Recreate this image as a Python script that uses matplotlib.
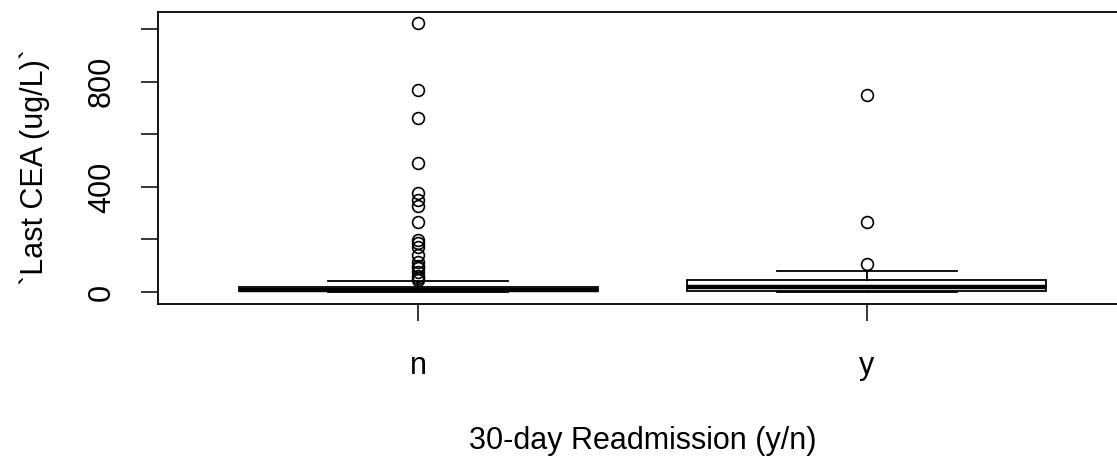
import matplotlib
matplotlib.use('Agg')
import matplotlib.pyplot as plt

plt.rcParams['font.family'] = ['Liberation Sans', 'DejaVu Sans']

# groups on the x axis
groups = ['n', 'y']
# five-number summaries (ug/L)
q1 = [2, 4]
median = [6, 18]
q3 = [20, 45]
whisker_lo = [0, 0]
whisker_hi = [43, 81]
# outliers per group
outliers_n = [1023, 769, 663, 490, 376, 352, 326, 268, 198, 185, 170, 140,
              115, 100, 90, 75, 62, 52, 47]
outliers_y = [749, 266, 105]
outliers = [outliers_n, outliers_y]

y_ticks = [0, 200, 400, 600, 800, 1000]
y_labels = ['0', '', '400', '', '800', '']

stats = []
for i, g in enumerate(groups):
    stats.append({'label': g, 'q1': q1[i], 'med': median[i], 'q3': q3[i],
                  'whislo': whisker_lo[i], 'whishi': whisker_hi[i],
                  'fliers': outliers[i]})

fig = plt.figure(figsize=(11.17, 4.57), dpi=100)
ax = fig.add_axes([158 / 1117, 153 / 457, 969 / 1117, 292 / 457])

ax.bxp(stats, positions=[1, 2], widths=0.8, capwidths=0.4, patch_artist=True,
       boxprops=dict(facecolor='white', edgecolor='black', linewidth=1.3),
       medianprops=dict(color='black', linewidth=3.2),
       whiskerprops=dict(color='black', linewidth=1.3),
       capprops=dict(color='black', linewidth=1.3),
       flierprops=dict(marker='o', markerfacecolor='none', markeredgecolor='black',
                       markersize=8.5, markeredgewidth=1.2))

ax.set_xlim(0.42, 2.58)
ax.set_ylim(-45.7, 1066)
ax.set_xticks([1, 2])
ax.set_xticklabels(groups)
ax.set_yticks(y_ticks)
ax.set_yticklabels(y_labels, rotation=90, va='center')

for s in ax.spines.values():
    s.set_linewidth(1.3)
ax.tick_params(axis='both', length=12.5, width=1.1, labelsize=22, colors='black')
ax.tick_params(axis='y', pad=17)
ax.tick_params(axis='x', pad=21)

ax.set_xlabel('30-day Readmission (y/n)', fontsize=22, labelpad=33)
ax.set_ylabel('`Last CEA (ug/L)`', fontsize=22, labelpad=27)
ax.yaxis.label.set_y(0.47)

fig.savefig('out.png', dpi=100)
